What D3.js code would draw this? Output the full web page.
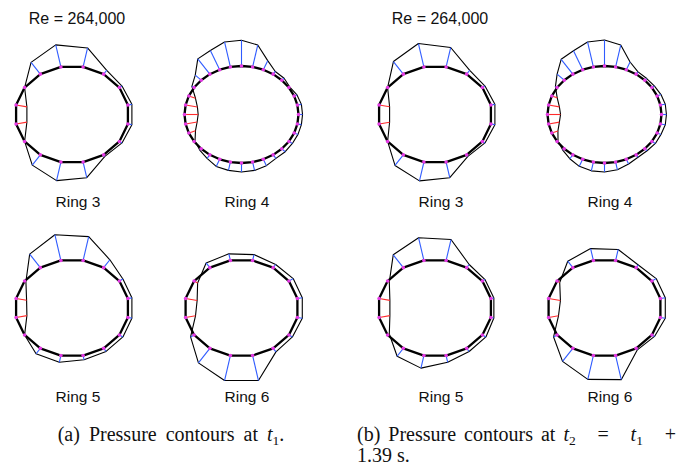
<!DOCTYPE html>
<html>
<head>
<meta charset="utf-8">
<script src="https://cdn.jsdelivr.net/npm/d3@7"></script>
<style>
  html, body { margin: 0; padding: 0; background: #fff; }
  svg { display: block; }
</style>
</head>
<body>
<svg id="chart" width="683" height="465"></svg>
<script>
// Pressure coefficient at each tap, listed counter-clockwise from the
// right-hand side of the ring (negative = suction, drawn outward).
const ring3_t1 = [-0.27,-0.20,-0.33,-1.30,-1.51,-1.00,0.00,0.73,0.73,0.00,-0.87,-1.27,-1.07,-0.13,-0.20,-0.27];
const ring4_t1 = [-0.27,-0.27,-0.20,-0.07,-0.20,-0.23,-0.67,-1.50,-1.72,-1.71,-1.42,-1.30,-0.52,-0.17,0.47,0.80,
                  0.91,0.78,0.47,0.07,-0.13,-0.30,-0.53,-0.57,-0.60,-0.57,-0.47,-0.30,-0.30,-0.27,-0.27,-0.27];
const ring5_t1 = [-0.27,-0.27,-0.67,-1.63,-1.76,-1.15,0.10,0.71,0.73,0.00,-0.46,-0.46,-0.29,-0.26,-0.27,-0.27];
const ring6_t1 = [-0.33,-0.33,-0.27,-0.40,-0.45,-0.40,0.27,0.78,0.67,-0.27,-1.23,-1.71,-1.71,-0.30,-0.27,-0.33];

const ring3_t2 = [-0.27,-0.20,-0.33,-1.33,-1.60,-1.07,0.00,0.71,0.71,0.00,-0.90,-1.29,-1.07,-0.13,-0.20,-0.27];
const ring4_t2 = [-0.33,-0.33,-0.27,-0.20,-0.17,-0.20,-0.57,-1.50,-1.73,-1.71,-1.40,-1.26,-0.62,-0.13,0.38,0.73,
                  0.87,0.73,0.43,0.07,-0.13,-0.33,-0.52,-0.60,-0.60,-0.53,-0.35,-0.20,-0.20,-0.27,-0.27,-0.33];
const ring5_t2 = [-0.20,-0.20,-0.27,-1.43,-1.55,-1.09,0.13,0.73,0.73,0.13,-0.67,-0.86,-0.46,-0.27,-0.27,-0.20];
const ring6_t2 = [-0.33,-0.33,-0.23,-0.75,-0.81,-0.55,0.20,0.80,0.67,-0.27,-1.11,-1.63,-1.65,-0.13,-0.20,-0.33];

const ringNames = ["Ring 3", "Ring 4", "Ring 5", "Ring 6"];
const reynoldsLabel = "Re = 264,000";

const panels = [
  { x0: 0,   rings: [ring3_t1, ring4_t1, ring5_t1, ring6_t1] },
  { x0: 363, rings: [ring3_t2, ring4_t2, ring5_t2, ring6_t2] }
];

const svg = d3.select("#chart");

// Layout of one panel: two rings per row
const colCx = [72, 241.5];
const rowCy = [114.5, 308];
const semiA = 57, semiB = 48.5;

// Radial length of one unit of Cp, in pixels
const cpScale = d3.scaleLinear().domain([0, 1]).range([0, 15]);

const COLORS = { suction: "#2f5bff", pressure: "#ff2b2b", tap: "#e63be6" };

function drawRing(g, values, cx, cy) {
  const n = values.length;
  // 32-tap ring has a tap every 11.25 deg starting at 0; 16-tap rings are offset half a step
  const offset = n === 32 ? 0 : 0.5;
  const angle = d3.scaleLinear().domain([0, n]).range([0, 2 * Math.PI]);
  const x = d3.scaleLinear().domain([-1, 1]).range([cx - semiA, cx + semiA]);
  const y = d3.scaleLinear().domain([-1, 1]).range([cy + semiB, cy - semiB]);

  const pts = values.map((cp, i) => {
    const th = angle(i + offset);
    const px = x(Math.cos(th)), py = y(Math.sin(th));
    const dx = px - cx, dy = py - cy, len = Math.hypot(dx, dy);
    const r = -cpScale(cp); // suction outward, positive pressure inward
    return { cp, px, py, tx: px + dx / len * r, ty: py + dy / len * r };
  });

  const line = d3.line().curve(d3.curveLinearClosed);

  g.append("path")
    .attr("d", line(pts.map(p => [p.tx, p.ty])))
    .attr("fill", "none").attr("stroke", "#000").attr("stroke-width", 1.1)
    .attr("stroke-linejoin", "round");

  g.selectAll("line.cp").data(pts).join("line")
    .attr("class", "cp")
    .attr("x1", d => d.px).attr("y1", d => d.py)
    .attr("x2", d => d.tx).attr("y2", d => d.ty)
    .attr("stroke", d => d.cp >= 0 ? COLORS.pressure : COLORS.suction)
    .attr("stroke-width", 1.1);

  g.append("path")
    .attr("d", line(pts.map(p => [p.px, p.py])))
    .attr("fill", "none").attr("stroke", "#000").attr("stroke-width", 2.3)
    .attr("stroke-linejoin", "round");

  g.selectAll("circle.tap").data(pts).join("circle")
    .attr("class", "tap")
    .attr("cx", d => d.px).attr("cy", d => d.py).attr("r", 1.8)
    .attr("fill", COLORS.tap);
}

const labelPos = [[78, 207], [247, 207], [78, 401.5], [247, 401.5]];

panels.forEach(panel => {
  const g = svg.append("g").attr("transform", `translate(${panel.x0},0)`);
  g.append("text")
    .attr("x", 77).attr("y", 24)
    .attr("text-anchor", "middle")
    .attr("font-family", "Liberation Sans, Arial, sans-serif")
    .attr("font-size", 16).attr("fill", "#111")
    .text(reynoldsLabel);
  panel.rings.forEach((vals, i) => {
    const cx = colCx[i % 2], cy = rowCy[Math.floor(i / 2)];
    drawRing(g.append("g"), vals, cx, cy);
    g.append("text")
      .attr("x", labelPos[i][0]).attr("y", labelPos[i][1])
      .attr("text-anchor", "middle")
      .attr("font-family", "Liberation Sans, Arial, sans-serif")
      .attr("font-size", 15.5).attr("fill", "#111")
      .text(ringNames[i]);
  });
});

// Sub-figure captions
const capFont = "Liberation Serif, Times New Roman, serif";
const capSize = 20;
function caption(x, y, parts, anchor) {
  const t = svg.append("text").attr("x", x).attr("y", y)
    .attr("text-anchor", anchor || "start")
    .attr("font-family", capFont).attr("font-size", capSize).attr("fill", "#111");
  parts.forEach(p => {
    const s = t.append("tspan").text(p.text);
    if (p.italic) s.attr("font-style", "italic");
    if (p.sub) s.attr("font-size", 13.5).attr("dy", 4);
    if (p.up) s.attr("dy", -4);
    p.node = s;
  });
  return t;
}
caption(171, 441, [
  { text: "(a) Pressure contours at " }, { text: "t", italic: true },
  { text: "1", sub: true }, { text: ".", up: true }
], "middle").attr("word-spacing", 4);

// Line (b) is justified: the gaps absorb the stretch, mostly around "=" and "+"
const partsB = [
  { text: "(b) Pressure contours at " }, { text: "t", italic: true },
  { text: "2", sub: true }, { text: "=", up: true, gap: true }, { text: "t", italic: true, gap: true },
  { text: "1", sub: true }, { text: "+", up: true, gap: true }
];
const capB = caption(357, 441, partsB).attr("word-spacing", 3);
const naturalB = capB.node().getComputedTextLength();
const mathGap = (676 - 357 - naturalB) / 3;
partsB.filter(p => p.gap).forEach(p => p.node.attr("dx", mathGap));
caption(357, 462, [{ text: "1.39 s." }]);
</script>
</body>
</html>
